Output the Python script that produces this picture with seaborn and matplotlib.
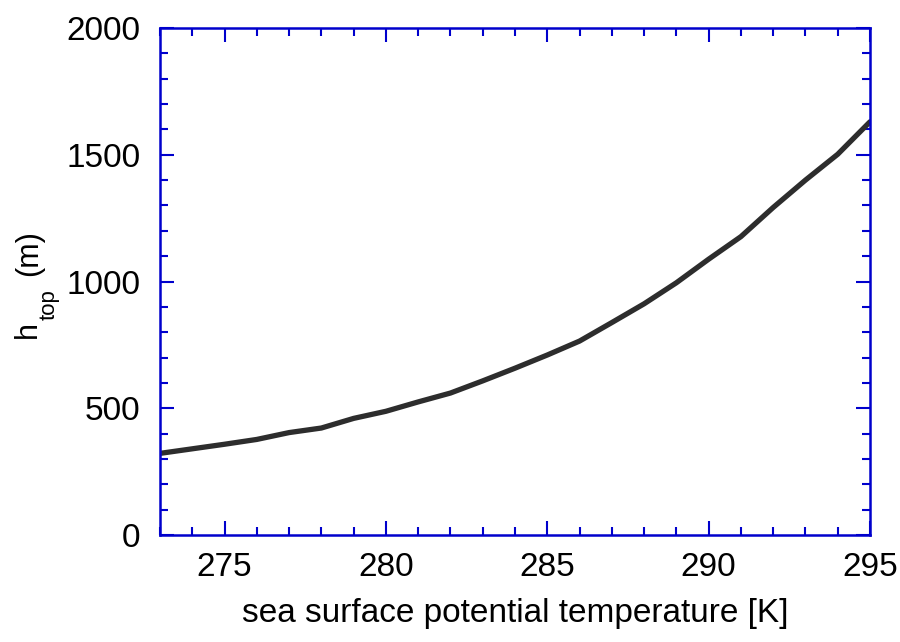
import matplotlib
matplotlib.use("Agg")
import matplotlib.pyplot as plt
from matplotlib.ticker import MultipleLocator
import seaborn as sns
import pandas as pd

# Boundary-layer top height versus sea surface potential temperature
sst = [273, 274, 275, 276, 277, 278, 279, 280, 281, 282, 283, 284,
       285, 286, 287, 288, 289, 290, 291, 292, 293, 294, 295]
h_top = [322, 340, 358, 377, 404, 422, 460, 488, 525, 560, 608, 658,
         710, 765, 838, 912, 995, 1088, 1177, 1292, 1400, 1502, 1630]

df = pd.DataFrame({"sst": sst, "h_top": h_top})

sns.set_theme(style="white")
plt.rcParams["font.family"] = ["Liberation Sans", "DejaVu Sans"]

W, H = 900, 642
fig = plt.figure(figsize=(W / 100, H / 100), dpi=100)
ax = fig.add_axes([160 / W, 1 - 535 / H, 710 / W, 507 / H])

sns.lineplot(data=df, x="sst", y="h_top", ax=ax, color="#2d2d2d",
             linewidth=3.8, solid_joinstyle="miter")

blue = "#0000cc"
ax.set_xlim(273, 295)
ax.set_ylim(0, 2000)
ax.xaxis.set_major_locator(MultipleLocator(5))
ax.xaxis.set_minor_locator(MultipleLocator(1))
ax.yaxis.set_major_locator(MultipleLocator(500))
ax.yaxis.set_minor_locator(MultipleLocator(100))
ax.tick_params(which="both", direction="in", top=True, right=True,
               bottom=True, left=True, color=blue, labelsize=24,
               labelcolor="black")
ax.tick_params(which="major", length=10, width=1.5)
ax.tick_params(axis="x", which="major", pad=12)
ax.tick_params(axis="y", which="major", pad=14)
ax.tick_params(which="minor", length=6, width=1.5)
for s in ax.spines.values():
    s.set_color(blue)
    s.set_linewidth(1.8)

ax.set_xlabel("sea surface potential temperature [K]", fontsize=24,
              labelpad=11, color="black")
ax.set_ylabel("")

# y-axis title built from pieces so the subscript sits well below the "h"
def side_text(x_px, y_px, s, size):
    fig.text(x_px / W, 1 - y_px / H, s, fontsize=size, rotation=90,
             rotation_mode="anchor", ha="center", va="baseline",
             color="black")

side_text(36, 330, "h", 22)
side_text(55, 305, "top", 16)
side_text(37, 253, "(m)", 22)

fig.savefig("out.png", dpi=100)
